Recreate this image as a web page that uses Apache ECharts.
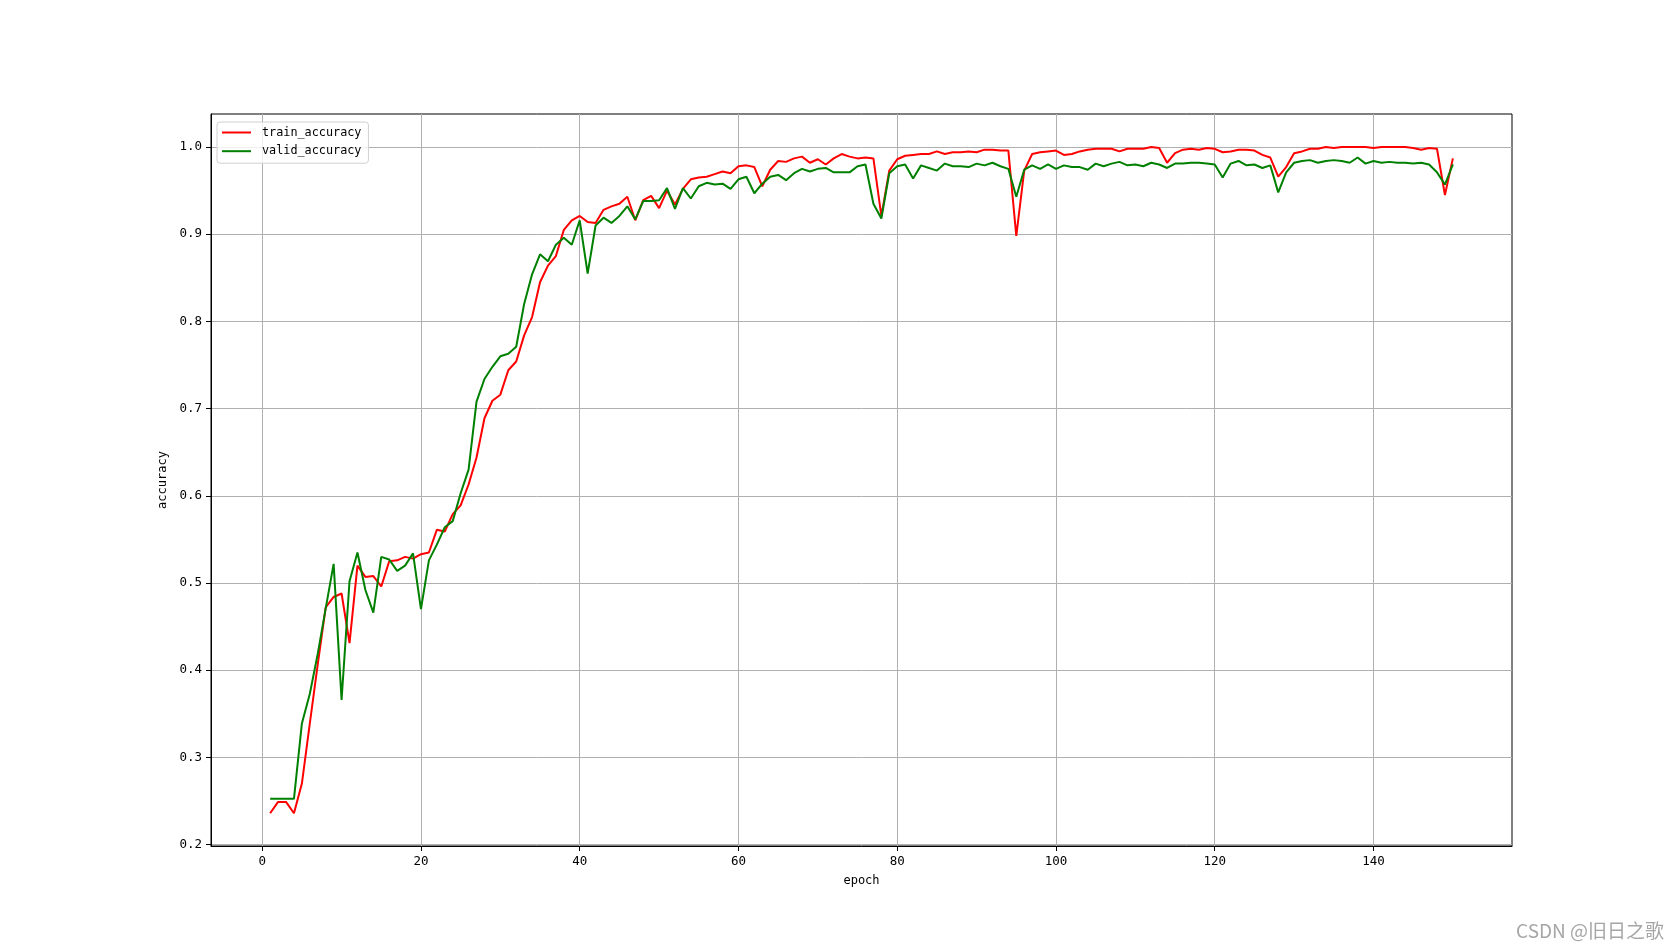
<!DOCTYPE html>
<html>
<head>
<meta charset="utf-8">
<script src="https://cdn.jsdelivr.net/npm/echarts@6/dist/echarts.min.js"></script>
<style>
html,body{margin:0;padding:0;background:#fff;}
#chart{width:1680px;height:951px;}
</style>
</head>
<body>
<div id="chart"></div>
<script>
const seriesNames = ['train_accuracy', 'valid_accuracy'];
const xTickValues = [0, 20, 40, 60, 80, 100, 120, 140];
const yTickValues = [0.2, 0.3, 0.4, 0.5, 0.6, 0.7, 0.8, 0.9, 1.0];

const trainAcc = [
  0.236,0.249,0.249,0.236,0.270,0.339,0.407,0.472,0.484,0.488,
  0.431,0.520,0.507,0.508,0.496,0.525,0.526,0.530,0.528,0.533,
  0.535,0.561,0.559,0.579,0.589,0.613,0.644,0.689,0.709,0.716,
  0.744,0.754,0.784,0.805,0.845,0.864,0.875,0.905,0.916,0.921,
  0.914,0.913,0.928,0.932,0.935,0.943,0.916,0.939,0.944,0.930,
  0.950,0.934,0.952,0.963,0.965,0.966,0.969,0.972,0.970,0.978,
  0.979,0.977,0.955,0.974,0.984,0.983,0.987,0.989,0.982,0.986,
  0.980,0.987,0.992,0.989,0.987,0.988,0.987,0.921,0.973,0.986,
  0.990,0.991,0.992,0.992,0.995,0.992,0.994,0.994,0.995,0.994,
  0.997,0.997,0.996,0.996,0.898,0.973,0.992,0.994,0.995,0.996,
  0.991,0.992,0.995,0.997,0.998,0.998,0.998,0.995,0.998,0.998,
  0.998,1.000,0.999,0.982,0.993,0.997,0.998,0.997,0.999,0.998,
  0.994,0.995,0.997,0.997,0.996,0.991,0.988,0.966,0.977,0.993,
  0.995,0.998,0.998,1.000,0.999,1.000,1.000,1.000,1.000,0.999,
  1.000,1.000,1.000,1.000,0.999,0.997,0.999,0.998,0.945,0.987
];

const validAcc = [
  0.2525,0.2525,0.2525,0.2525,0.339,0.373,0.419,0.471,0.522,0.366,
  0.502,0.535,0.492,0.466,0.530,0.527,0.514,0.520,0.534,0.470,
  0.526,0.544,0.564,0.571,0.603,0.630,0.708,0.734,0.748,0.760,
  0.763,0.771,0.820,0.854,0.877,0.869,0.888,0.896,0.888,0.916,
  0.855,0.910,0.919,0.913,0.921,0.932,0.917,0.938,0.938,0.939,
  0.953,0.929,0.953,0.941,0.955,0.959,0.957,0.958,0.952,0.963,
  0.966,0.947,0.958,0.966,0.968,0.962,0.970,0.975,0.972,0.975,
  0.976,0.971,0.971,0.971,0.978,0.980,0.935,0.918,0.970,0.978,
  0.980,0.964,0.979,0.976,0.973,0.981,0.978,0.978,0.977,0.981,
  0.979,0.982,0.978,0.975,0.943,0.974,0.979,0.975,0.980,0.975,
  0.979,0.977,0.977,0.974,0.981,0.978,0.981,0.983,0.979,0.980,
  0.978,0.982,0.980,0.976,0.981,0.981,0.982,0.982,0.981,0.980,
  0.965,0.981,0.984,0.979,0.980,0.976,0.979,0.948,0.971,0.982,
  0.984,0.985,0.982,0.984,0.985,0.984,0.982,0.988,0.981,0.984,
  0.982,0.983,0.982,0.982,0.981,0.982,0.980,0.971,0.957,0.980
];

const epochs = trainAcc.map((_, i) => i + 1);

const FONT = '"DejaVu Sans Mono", monospace';
const chart = echarts.init(document.getElementById('chart'), null, {renderer: 'canvas'});

const axisCommon = {
  axisLine: {show: true, onZero: false, lineStyle: {color: '#000', width: 1}},
  axisTick: {show: true, inside: false, length: 5, lineStyle: {color: '#000', width: 1}},
  splitLine: {show: true, lineStyle: {color: '#b0b0b0', width: 1}},
  nameTextStyle: {color: '#000', fontFamily: FONT, fontSize: 12}
};

chart.setOption({
  animation: false,
  backgroundColor: '#ffffff',
  grid: {
    left: 211, top: 114, right: 168, bottom: 105,
    show: true, borderColor: '#000', borderWidth: 1, backgroundColor: 'transparent',
    containLabel: false
  },
  legend: {
    show: true,
    data: seriesNames,
    orient: 'vertical',
    left: 217, top: 122,
    icon: 'rect',
    itemWidth: 29, itemHeight: 2,
    itemGap: 4.7,
    padding: [3.5, 7, 5, 5],
    borderColor: '#d0d0d0', borderWidth: 1, borderRadius: 3,
    backgroundColor: 'rgba(255,255,255,0.8)',
    textStyle: {fontFamily: FONT, fontSize: 11.8, color: '#000', lineHeight: 14, padding: [0, 0, 0, 6]}
  },
  xAxis: Object.assign({}, axisCommon, {
    type: 'value',
    min: -6.45, max: 157.45,
    name: 'epoch', nameLocation: 'middle', nameGap: 29,
    axisTick: Object.assign({}, axisCommon.axisTick, {customValues: xTickValues}),
    axisLabel: {customValues: xTickValues, margin: 9, color: '#000', fontFamily: FONT, fontSize: 12.5,
      formatter: v => String(v)}
  }),
  yAxis: Object.assign({}, axisCommon, {
    type: 'value',
    min: 0.1984, max: 1.0379,
    name: 'accuracy', nameLocation: 'middle', nameGap: 32, nameRotate: 90,
    axisTick: Object.assign({}, axisCommon.axisTick, {customValues: yTickValues}),
    axisLabel: {customValues: yTickValues, margin: 9, color: '#000', fontFamily: FONT, fontSize: 12.5,
      formatter: v => v.toFixed(1)}
  }),
  series: [
    {
      name: seriesNames[0], type: 'line', symbol: 'none', showSymbol: false,
      color: '#ff0000',
      lineStyle: {color: '#ff0000', width: 2},
      data: epochs.map((e, i) => [e, trainAcc[i]]),
      z: 2
    },
    {
      name: seriesNames[1], type: 'line', symbol: 'none', showSymbol: false,
      color: '#008000',
      lineStyle: {color: '#008000', width: 2},
      data: epochs.map((e, i) => [e, validAcc[i]]),
      z: 3
    }
  ],
  graphic: [{
    type: 'text',
    right: 16, top: 921,
    style: {text: 'CSDN @旧日之歌', fill: '#a6a6a6', font: '19px "Noto Sans CJK SC", sans-serif'}
  }]
});
</script>
</body>
</html>
